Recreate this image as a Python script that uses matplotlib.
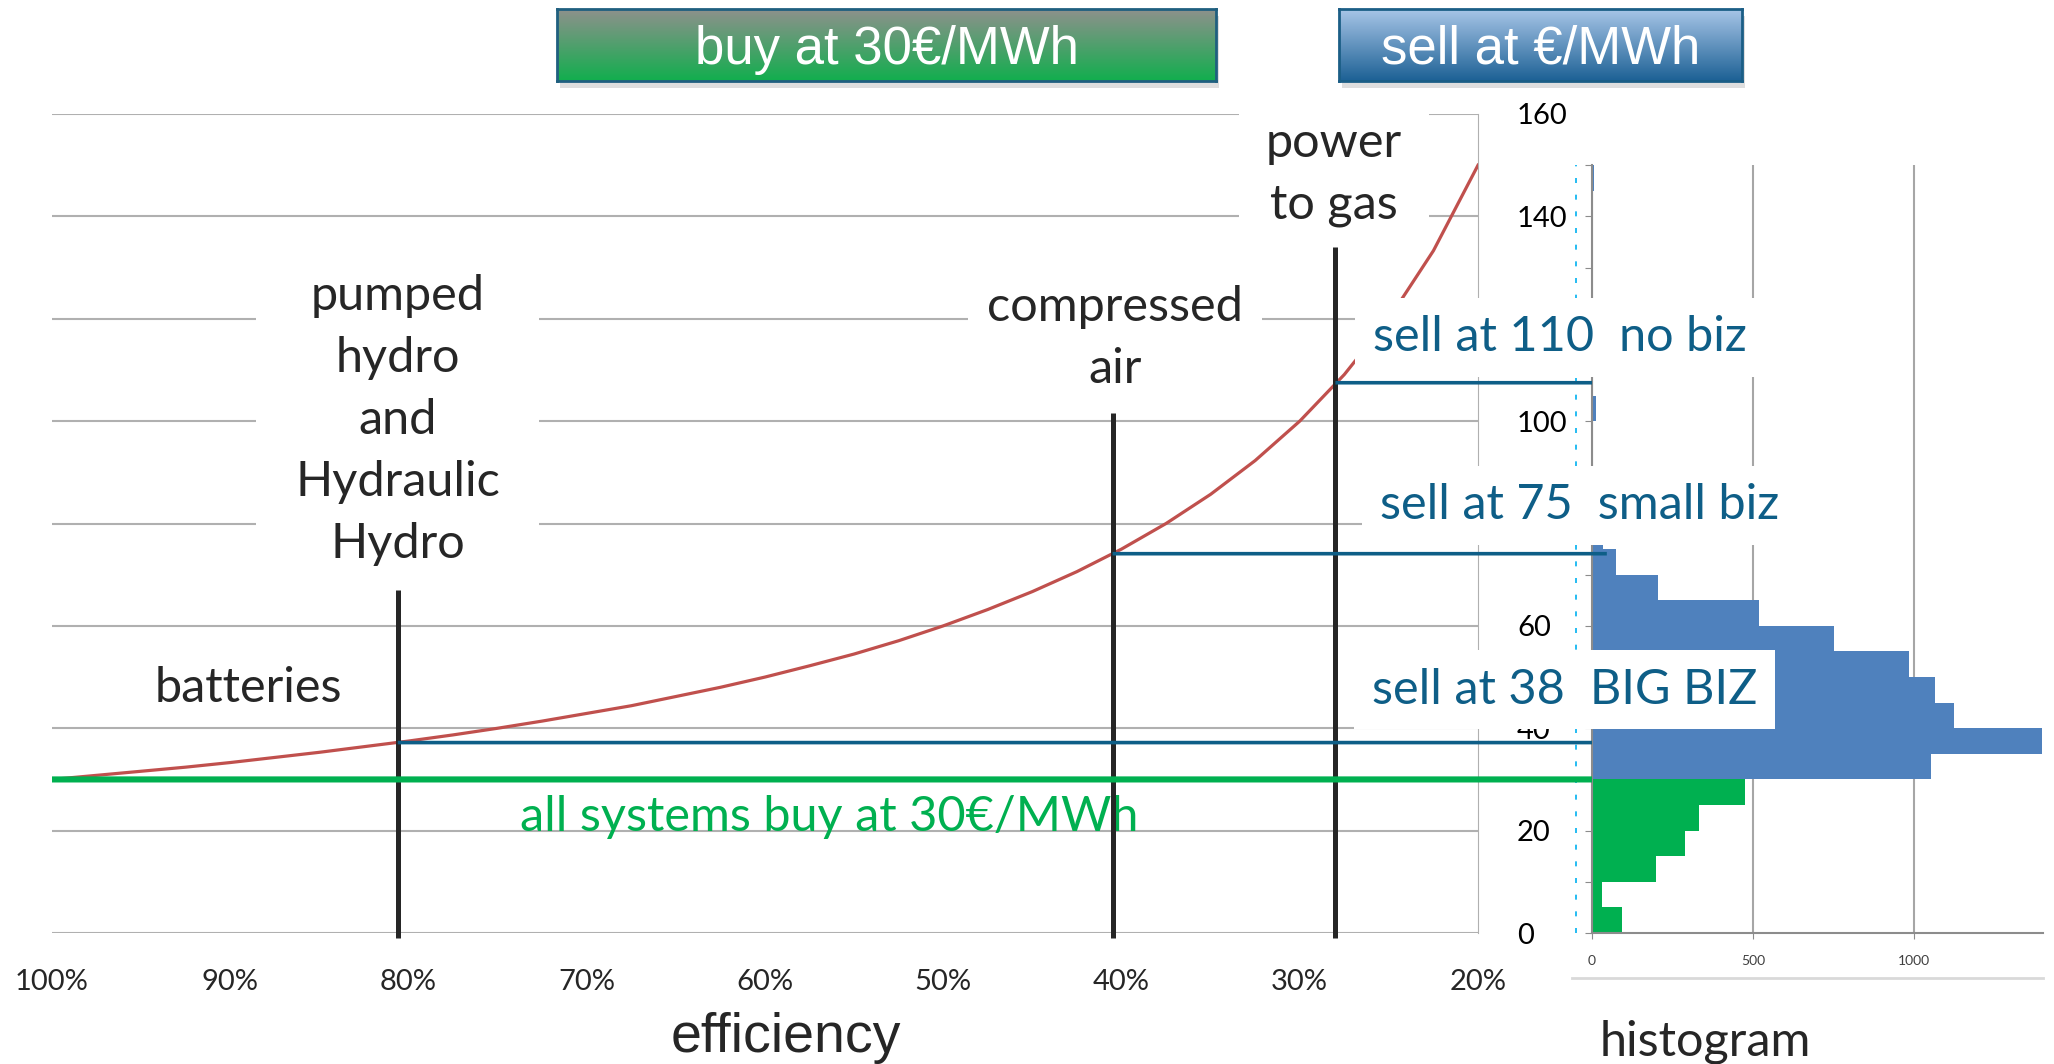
import numpy as np
import matplotlib
matplotlib.use("Agg")
import matplotlib.pyplot as plt
from matplotlib.patches import ConnectionPatch, Rectangle
from matplotlib.lines import Line2D
from matplotlib.colors import LinearSegmentedColormap

# efficiency axis (x) and price axis (y, EUR/MWh)
eff_ticks = [1.0, 0.9, 0.8, 0.7, 0.6, 0.5, 0.4, 0.3, 0.2]
eff_labels = ["100%", "90%", "80%", "70%", "60%", "50%", "40%", "30%", "20%"]
price_ticks = [0, 20, 40, 60, 80, 100, 120, 140, 160]
# 120 and 80 sit under the white label boxes in the original
price_labels = ["0", "20", "40", "60", "", "100", "", "140", "160"]

buy_price = 30

# break-even selling price
curve_eff = [1.0, 0.975, 0.95, 0.925, 0.9, 0.875, 0.85, 0.825, 0.8, 0.775, 0.75,
             0.725, 0.7, 0.675, 0.65, 0.625, 0.6, 0.575, 0.55, 0.525, 0.5, 0.475,
             0.45, 0.425, 0.4, 0.375, 0.35, 0.325, 0.3, 0.275, 0.25, 0.225, 0.2]
curve_price = [30, 30.8, 31.6, 32.4, 33.3, 34.3, 35.3, 36.4, 37.5, 38.7, 40,
               41.4, 42.9, 44.4, 46.2, 48, 50, 52.2, 54.5, 57.1, 60, 63.2,
               66.7, 70.6, 75, 80, 85.7, 92.3, 100, 109.1, 120, 133.3, 150]

# storage technologies
tech_names = ["pumped\nhydro\nand\nHydraulic\nHydro", "compressed\nair", "power\nto gas"]
tech_eff = [0.806, 0.405, 0.28]
tech_top = [67, 101.5, 134]
sell_price = [37.2, 74.1, 107.5]
sell_end = [0, 46, 0]
sell_labels = ["sell at 38  BIG BIZ", "sell at 75  small biz", "sell at 110  no biz"]

# histogram of hourly prices, 5 EUR/MWh bins
hist_lo = list(range(0, 150, 5))
hist_counts = [92, 30, 200, 288, 333, 475, 1052, 1397, 1123, 1065, 984, 752, 519, 206, 74,
               33, 12, 6, 3, 3, 13, 0, 0, 0, 2, 0, 0, 0, 0, 5]

GREEN = "#00B050"
TEAL = "#0E5E87"
RED = "#C0504D"
BLUE = "#4F81BD"
GRID = "#B0B0B0"
DARK = "#262626"
CAL = ["Lato", "DejaVu Sans"]
FS = 35

W, H = 2054, 1064
fig = plt.figure(figsize=(W / 100, H / 100), dpi=100)

# ---- main chart
ax = fig.add_axes([52 / W, 131 / H, 1426 / W, 819 / H])
ax.set_xlim(1.0, 0.2)
ax.set_ylim(0, 160)
ax.set_xticks(eff_ticks)
ax.set_xticklabels(eff_labels, family=CAL, color=DARK)
ax.set_yticks(price_ticks)
ax.set_yticklabels(price_labels, family=CAL, color="black")
ax.yaxis.tick_right()
ax.grid(axis="y", color=GRID, lw=1.5)
ax.set_axisbelow(True)
for s in ["left", "top", "bottom"]:
    ax.spines[s].set_visible(False)
ax.spines["right"].set_color(GRID)
ax.tick_params(length=0)
ax.tick_params(axis="x", pad=26, labelsize=21)
ax.tick_params(axis="y", pad=28, labelsize=21)

ax.plot(curve_eff, curve_price, color=RED, lw=2.3, zorder=3)
ax.vlines(tech_eff, -1, tech_top, color=DARK, lw=3.6, zorder=4, clip_on=False)

# technology labels (white boxes hide the grid)
ax.text(tech_eff[0], 100.2, tech_names[0], ha="center", va="center", fontsize=FS,
        family=CAL, color=DARK, linespacing=1.5, zorder=2,
        bbox=dict(boxstyle="square,pad=0.8", fc="white", ec="none"))
ax.text(0.4036, 116.2, tech_names[1], ha="center", va="center", fontsize=FS,
        family=CAL, color=DARK, linespacing=1.5, zorder=2,
        bbox=dict(boxstyle="square,pad=0.4", fc="white", ec="none"))
ax.text(0.2808, 148.3, tech_names[2], ha="center", va="center", fontsize=FS,
        family=CAL, color=DARK, linespacing=1.5, zorder=2,
        bbox=dict(boxstyle="square,pad=0.55", fc="white", ec="none"))
ax.text(0.890, 47.9, "batteries", ha="center", va="center", fontsize=FS,
        family=CAL, color=DARK, zorder=2)
ax.text(0.7375, 20, "all systems buy at 30€/MWh", ha="left", va="baseline",
        fontsize=FS, family=CAL, color=GREEN, zorder=2)

# ---- histogram
axh = fig.add_axes([1592 / W, 131 / H, 451 / W, 819 / H * 150 / 160])
colors = [GREEN if lo < buy_price else BLUE for lo in hist_lo]
axh.barh(hist_lo, hist_counts, height=5, align="edge", color=colors, zorder=2)
axh.set_xlim(0, 1400)
axh.set_ylim(0, 150)
axh.set_xticks([0, 500, 1000])
axh.set_yticks(range(0, 151, 10))
axh.set_yticklabels([])
axh.grid(axis="x", color="#A6A6A6", lw=1.5)
axh.set_axisbelow(True)
for s in ["top", "right"]:
    axh.spines[s].set_visible(False)
for s in ["left", "bottom"]:
    axh.spines[s].set_color("#8C8C8C")
    axh.spines[s].set_linewidth(1.5)
axh.tick_params(axis="y", length=5, color="#8C8C8C")
axh.tick_params(axis="x", length=4, color="#8C8C8C", labelsize=10, pad=12,
                labelcolor="#404040")
for lab in axh.get_xticklabels():
    lab.set_family(CAL)
axh.axvline(-50, 0, 1, color="#00B0F0", ls=(0, (3, 7)), lw=1.2, clip_on=False)
fig.add_artist(Line2D([1572 / W, 2043 / W], [(H - 978) / H] * 2,
                      transform=fig.transFigure, color="#D9D9D9", lw=2))

# ---- price lines from the curve to the histogram
fig.add_artist(ConnectionPatch(xyA=(1.0, buy_price), coordsA="data", axesA=ax,
                               xyB=(0, buy_price), coordsB="data", axesB=axh,
                               color=GREEN, lw=4.4, capstyle="butt", zorder=4))
for e, p, x1 in zip(tech_eff, sell_price, sell_end):
    fig.add_artist(ConnectionPatch(xyA=(e, p), coordsA="data", axesA=ax,
                                   xyB=(x1, p), coordsB="data", axesB=axh,
                                   color=TEAL, lw=2.6, capstyle="butt", zorder=4))

sell_x = [0.2595, 0.2550, 0.2590]
sell_y = [47.5, 83.6, 116.4]
for x, y, s in zip(sell_x, sell_y, sell_labels):
    fig.text(x, y, s, transform=ax.transData, ha="left", va="center", fontsize=FS,
             family=CAL, color=TEAL, zorder=6,
             bbox=dict(boxstyle="square,pad=0.36", fc="white", ec="none"))

# ---- axis titles
fig.text(786 / W, 12 / H, "efficiency", ha="center", va="baseline", fontsize=40,
         family="Liberation Sans", color=DARK)
fig.text(1705 / W, 8 / H, "histogram", ha="center", va="baseline", fontsize=35,
         family=CAL, color=DARK)


# ---- gradient banners
def banner(x0, x1, text, top_col, bot_col, edge):
    fig.add_artist(Rectangle(((x0 + 3) / W, (H - 88) / H), (x1 - x0) / W, 72 / H,
                             transform=fig.transFigure, fc="#C8C8C8", ec="none",
                             alpha=0.6, zorder=-1))
    bx = fig.add_axes([x0 / W, (H - 81) / H, (x1 - x0) / W, 72 / H])
    cmap = LinearSegmentedColormap.from_list("g", [top_col, bot_col])
    bx.imshow(np.linspace(0, 1, 100)[:, None], aspect="auto", cmap=cmap,
              extent=(0, 1, 0, 1), origin="upper")
    bx.set_xticks([])
    bx.set_yticks([])
    for s in bx.spines.values():
        s.set_color(edge)
        s.set_linewidth(2)
    bx.text(0.5, 0.24, text, ha="center", va="baseline", color="white",
            fontsize=38, family="Liberation Sans", transform=bx.transAxes)


banner(557, 1216, "buy at 30€/MWh", "#8E918C", "#12AE4E", "#1F5F7F")
banner(1339, 1742, "sell at €/MWh", "#A7C5E7", "#1D6195", "#1B5E86")

fig.savefig("out.png", dpi=100)
